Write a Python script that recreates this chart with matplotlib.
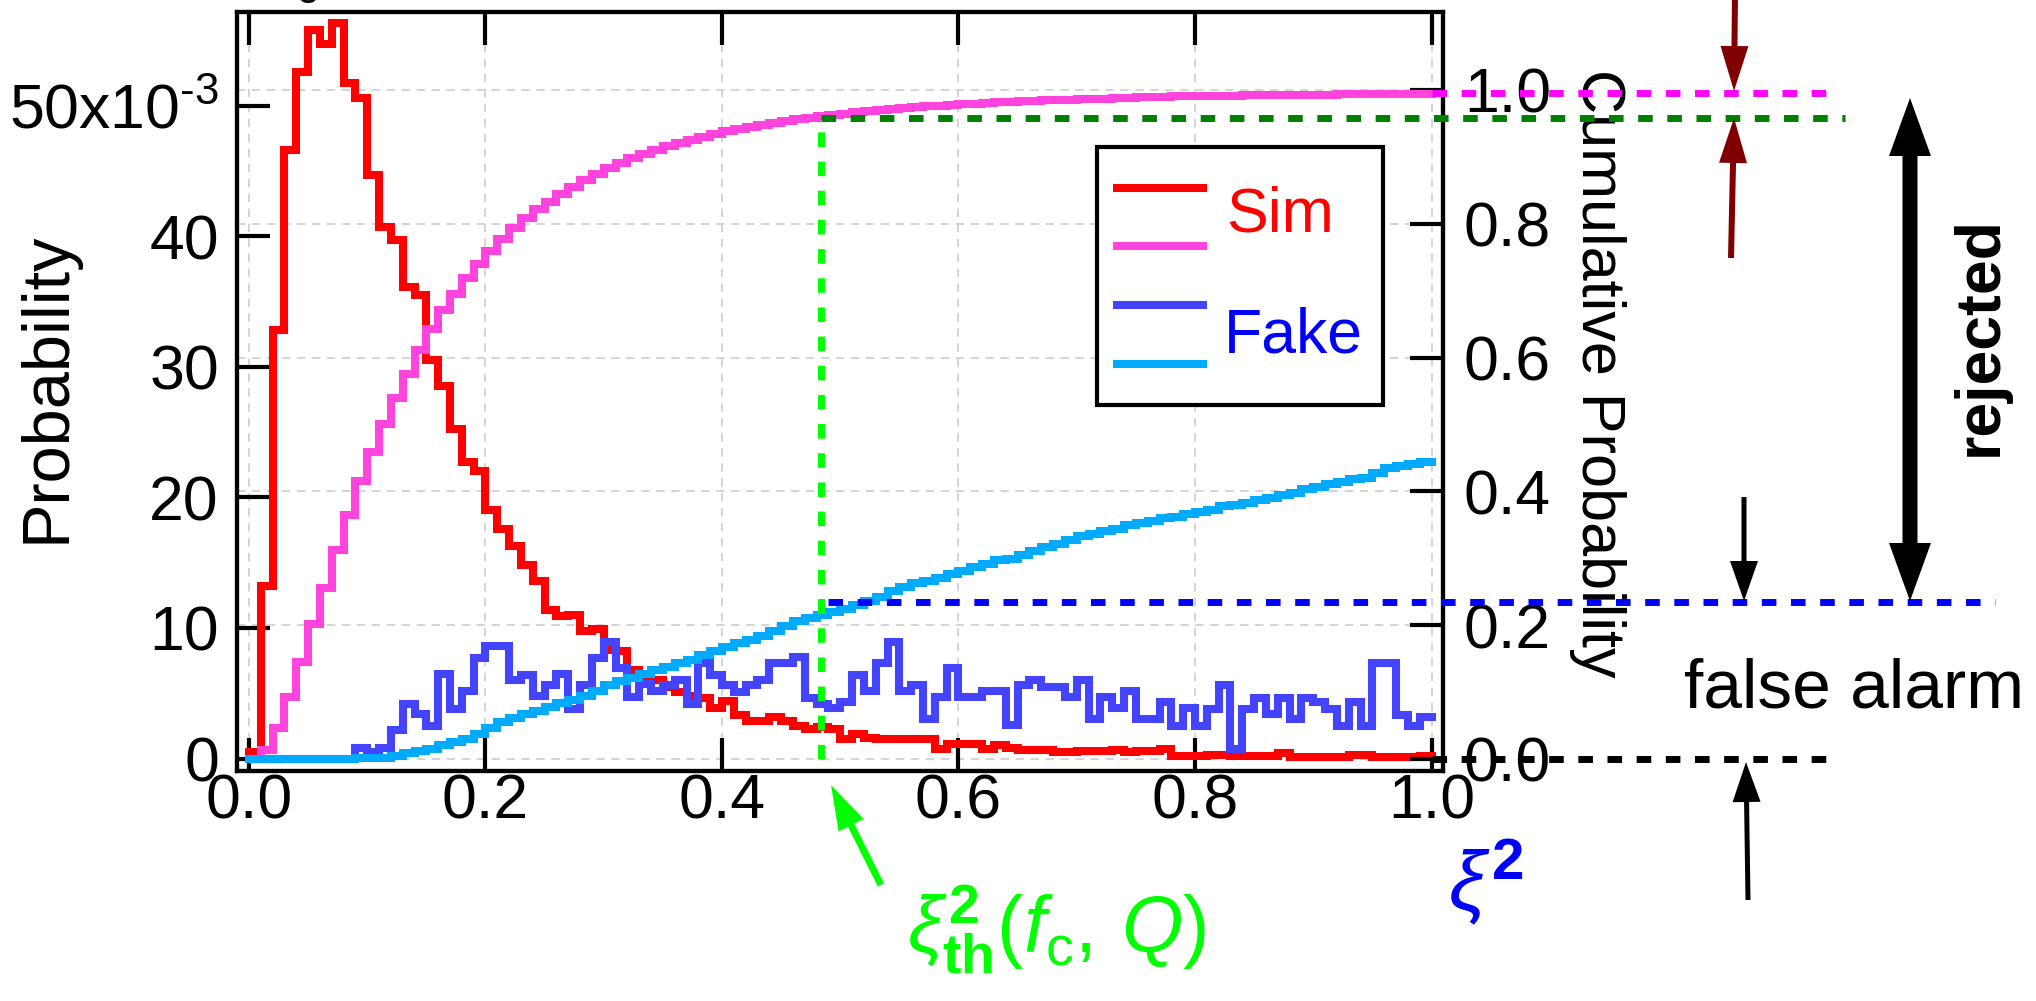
import numpy as np
import matplotlib
matplotlib.use("Agg")
import matplotlib.pyplot as plt
import matplotlib.transforms as mtransforms
from matplotlib.patches import FancyArrow, Rectangle
from matplotlib.lines import Line2D
from matplotlib import font_manager

# ---------------- data ----------------
bin_width = 0.01
# Sim histogram, probability per bin (x1e-3), bins 0.00-0.01 ... 0.99-1.00
sim_prob_e3 = [
    0.5, 13.2, 32.8, 46.6, 52.6, 55.8, 54.7, 56.3, 51.7, 50.6,
    44.7, 40.7, 39.7, 36.1, 35.5, 30.5, 28.5, 25.2, 22.7, 22.0,
    19.0, 17.6, 16.3, 14.8, 13.6, 11.4, 10.9, 11.0, 9.75, 9.9,
    8.3, 8.2, 6.8, 6.1, 6.0, 5.5, 5.1, 4.8, 4.6, 3.9,
    4.4, 3.3, 2.9, 2.9, 3.2, 2.9, 2.5, 2.3, 2.4, 2.3,
    1.5, 1.9, 1.6, 1.5, 1.5, 1.5, 1.5, 1.5, 0.74, 1.1,
    1.1, 1.1, 0.74, 1.07, 0.8, 0.66, 0.66, 0.66, 0.49, 0.49,
    0.61, 0.61, 0.61, 0.66, 0.5, 0.56, 0.56, 0.74, 0.2, 0.2,
    0.2, 0.3, 0.3, 0.23, 0.23, 0.23, 0.23, 0.4, 0.15, 0.15,
    0.15, 0.15, 0.15, 0.3, 0.3, 0.1, 0.1, 0.1, 0.1, 0.23,
]
# Fake histogram, probability per bin (x1e-3)
fake_prob_e3 = [
    0, 0, 0, 0, 0, 0, 0, 0, 0, 0.8,
    0.5, 0.8, 2.2, 4.2, 3.4, 2.5, 6.5, 3.8, 5.2, 7.7,
    8.6, 8.6, 6.0, 6.4, 4.8, 5.6, 6.5, 3.8, 5.6, 7.7,
    8.9, 6.9, 4.7, 5.7, 5.2, 5.6, 6.0, 4.2, 7.3, 6.4,
    5.6, 5.1, 5.6, 6.0, 7.3, 7.3, 7.8, 4.6, 4.2, 3.9,
    4.3, 6.4, 5.2, 7.3, 8.9, 5.2, 5.6, 3.0, 4.7, 6.9,
    4.7, 4.7, 5.2, 5.2, 2.6, 5.6, 6.0, 5.5, 5.5, 4.75,
    6.0, 3.0, 4.7, 3.9, 5.2, 3.0, 3.0, 4.3, 2.5, 3.9,
    2.5, 3.8, 5.6, 0.74, 3.8, 4.6, 3.4, 4.6, 3.0, 4.6,
    4.3, 3.8, 2.5, 4.3, 2.5, 7.3, 7.3, 3.3, 2.5, 3.2,
]
x_ticks = [0.0, 0.2, 0.4, 0.6, 0.8, 1.0]
x_tick_labels = ["0.0", "0.2", "0.4", "0.6", "0.8", "1.0"]
left_ticks = [0.0, 0.010, 0.020, 0.030, 0.040, 0.050]
left_tick_labels = ["0", "10", "20", "30", "40", r"50x10$^{\text{-3}}$"]
right_ticks = [0.0, 0.2, 0.4, 0.6, 0.8, 1.0]
right_tick_labels = ["0.0", "0.2", "0.4", "0.6", "0.8", "1.0"]
legend_labels = ["Sim", "Fake"]

threshold_xi2 = 0.484       # xi^2_th(f_c, Q)
cum_sim_at_threshold = 0.958
cum_fake_at_threshold = 0.235
cum_top_level = 0.996
cum_zero_level = 0.0

# ---------------- style ----------------
W, H, DPI = 2036, 1001, 100
RED, PINK, BLUE, CYAN = "#ff0000", "#ff44dd", "#4444ff", "#00aaff"
LIME, DGREEN, DBLUE, MAGENTA, BROWN = "#00ff00", "#008000", "#0000ff", "#ff00ff", "#800000"

names = {f.name for f in font_manager.fontManager.ttflist}
NARROW = "Liberation Sans Narrow" if "Liberation Sans Narrow" in names else "Liberation Sans"
REG = "Liberation Sans"
TICK_FS = 49 if NARROW != REG else 45
plt.rcParams["font.family"] = [NARROW, "DejaVu Sans"]
plt.rcParams["mathtext.fontset"] = "custom"
plt.rcParams["mathtext.rm"] = NARROW
plt.rcParams["mathtext.it"] = REG + ":italic"
plt.rcParams["mathtext.bf"] = REG + ":bold"

fig = plt.figure(figsize=(W / DPI, H / DPI), dpi=DPI)
AX_L, AX_R, AX_T, AX_B = 237, 1443, 12.3, 770.7
ax = fig.add_axes([AX_L / W, 1 - AX_B / H, (AX_R - AX_L) / W, (AX_B - AX_T) / H])
ax2 = ax.twinx()

# pixel transform (x from left, y from top)
pix = mtransforms.Affine2D().scale(1, -1).translate(0, H)

edges = np.arange(len(sim_prob_e3) + 1) * bin_width
sim = np.array(sim_prob_e3) * 1e-3
fake = np.array(fake_prob_e3) * 1e-3

LW = 5.8
ax.stairs(sim, edges, baseline=None, color=RED, lw=LW, zorder=2,
          joinstyle="miter", capstyle="projecting")
ax.stairs(fake, edges, baseline=None, color=BLUE, lw=LW, zorder=3,
          joinstyle="miter", capstyle="projecting")
ax2.stairs(np.cumsum(sim), edges, baseline=None, color=PINK, lw=LW, zorder=2,
           joinstyle="miter", capstyle="projecting")
ax2.stairs(np.cumsum(fake), edges, baseline=None, color=CYAN, lw=LW, zorder=3,
           joinstyle="miter", capstyle="projecting")

ax.set_xlim(-0.0101, 1.0097)
ax.set_ylim(-0.00093, 0.05714)
ax2.set_ylim(-0.0175, 1.116)

# grid (light dashed), drawn beneath everything
GRID = dict(color="#d4d4d4", lw=1.4, ls=(0, (4.3, 3.4)), zorder=0.5)
for xv in x_ticks:
    ax.axvline(xv, **GRID)
blend = mtransforms.blended_transform_factory(ax.transAxes, ax2.transData)
for yv in right_ticks:
    ax.plot([0, 1], [yv, yv], transform=blend, **GRID)

# ticks
TICK = dict(direction="in", length=23.5, width=3, labelsize=TICK_FS)
ax.set_xticks(x_ticks)
ax.set_xticklabels(x_tick_labels)
ax.set_yticks(left_ticks)
ax.set_yticklabels(left_tick_labels)
ax.tick_params(axis="x", which="major", top=True, bottom=True, pad=1, **TICK)
ax.tick_params(axis="y", which="major", left=True, right=False, pad=13, **TICK)
ax2.set_yticks(right_ticks)
ax2.set_yticklabels(right_tick_labels)
ax2.tick_params(axis="y", which="major", right=True, left=False, pad=15, **TICK)
ax.minorticks_off()
ax2.minorticks_off()
for a in (ax, ax2):
    for s in a.spines.values():
        s.set_linewidth(3)

LAB_FS = 52 if NARROW != REG else 45
ax.text(-0.157, 0.505, "Probability", rotation=90, ha="center", va="center",
        fontsize=LAB_FS + 3, transform=ax.transAxes)
ax2.text(1.1285, 0.5244, "Cumulative Probability", rotation=-90, ha="center",
         va="center", fontsize=LAB_FS - 1, transform=ax2.transAxes)

# threshold and level lines
DOT = (0, (2.1, 2.1))
ax2.plot([threshold_xi2, threshold_xi2], [cum_zero_level, cum_sim_at_threshold],
         color=LIME, lw=5, ls=DOT, zorder=6)
ax2.plot([threshold_xi2, 1.3497], [cum_sim_at_threshold] * 2, color=DGREEN, lw=5,
         ls=DOT, zorder=6, clip_on=False)
ax2.plot([threshold_xi2 + 0.006, 1.4765], [cum_fake_at_threshold] * 2, color=DBLUE,
         lw=5, ls=DOT, zorder=6, clip_on=False)
ax2.plot([1.0, 1.3455], [cum_top_level] * 2, color=MAGENTA, lw=5, ls=DOT,
         zorder=6, clip_on=False)
ax2.plot([1.0, 1.3412], [cum_zero_level] * 2, color="black", lw=5, ls=DOT,
         zorder=6, clip_on=False)

# legend (manual box)
fig.add_artist(Rectangle((1097, 147), 286, 258, transform=pix, facecolor="white",
                         edgecolor="black", lw=3, zorder=5))
for yy, c in [(188, RED), (246, PINK), (305, BLUE), (364, CYAN)]:
    fig.add_artist(Line2D([1113, 1207], [yy, yy], transform=pix, color=c, lw=LW,
                          solid_capstyle="butt", zorder=6))
fig.text(1226, 215, legend_labels[0], color=RED, fontsize=45, family=REG,
         ha="left", va="center", transform=pix, zorder=7)
fig.text(1224, 336, legend_labels[1], color=DBLUE, fontsize=45, family=REG,
         ha="left", va="center", transform=pix, zorder=7)

# annotations right of plot
def arrow(x0, y0, x1, y1, color, shaft, hw, hl):
    fig.add_artist(FancyArrow(x0, y0, x1 - x0, y1 - y0, width=shaft, head_width=hw,
                              head_length=hl, length_includes_head=True,
                              transform=pix, color=color, lw=0, zorder=8))

arrow(1735, -5, 1734, 91, BROWN, 6, 28, 45)
arrow(1731, 258, 1734, 118, BROWN, 6, 28, 45)
arrow(1910, 350, 1910, 98, "black", 15, 42, 58)
arrow(1910, 350, 1910, 601, "black", 15, 42, 58)
arrow(1744, 497, 1744, 601, "black", 5, 28, 40)
arrow(1748, 900, 1746, 762, "black", 5, 28, 40)
arrow(881, 885, 831, 785, LIME, 7, 28, 45)

fig.text(1980, 336, "rejected", rotation=90, ha="center", va="center",
         fontsize=45, fontweight="bold", family=REG, transform=pix)
fig.text(1684, 708, "false alarm", ha="left", va="baseline", fontsize=50,
         family=REG, transform=pix)
fig.text(1448, 882, r"$\xi^{\mathbf{2}}$", ha="left", va="center", fontsize=60,
         color=DBLUE, transform=pix)
fig.text(907, 952, r"$\xi^{\mathbf{2}}_{\mathbf{th}}(f_{\mathrm{c}},\,Q)$",
         ha="left", va="baseline", fontsize=57, color=LIME, transform=pix)
fig.text(308, -6, "g", ha="center", va="baseline", fontsize=30, family=REG,
         transform=pix)

fig.savefig("out.png", dpi=DPI)
